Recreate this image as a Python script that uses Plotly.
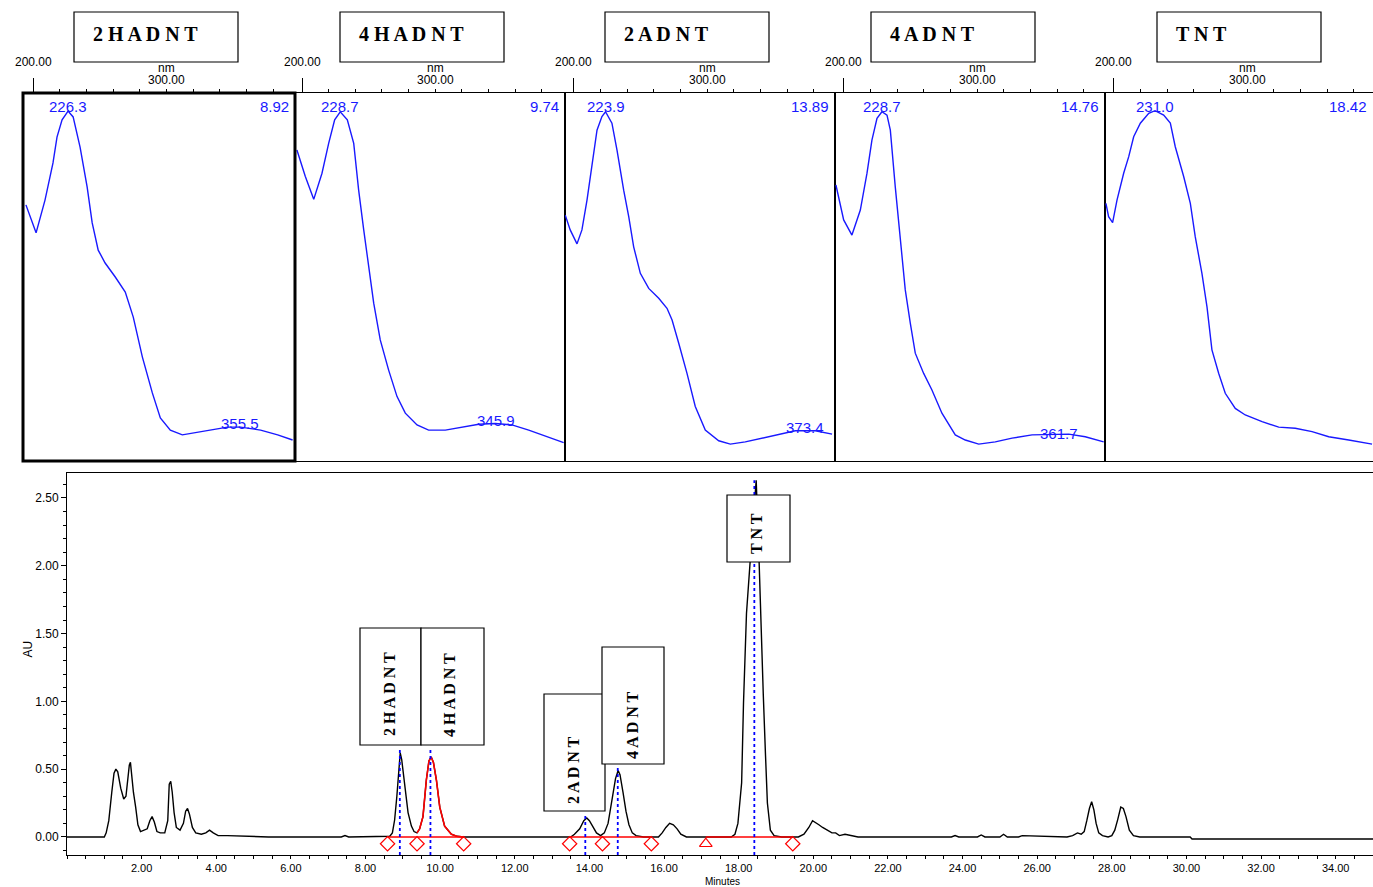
import plotly.graph_objects as go

W, H = 1373, 887
def px(x): return x / W
def py(y): return 1 - y / H

BLUE = "rgb(25,25,255)"
SANS = "Liberation Sans, Arial, sans-serif"
SERIF = "Liberation Serif, Times New Roman, serif"

# ---------------- UV spectra (wavelength nm, relative absorbance) ----------------
spec_names = ["2HADNT", "4HADNT", "2ADNT", "4ADNT", "TNT"]
spec_rt = ["8.92", "9.74", "13.89", "14.76", "18.42"]
spec_max_label = ["226.3", "228.7", "223.9", "228.7", "231.0"]
spec_min_label = ["355.5", "345.9", "373.4", "361.7"]
spec_min_label_a = [0.103, 0.109, 0.090, 0.076]

wl_2hadnt = [194.7, 202.3, 209.0, 215.0, 218.0, 221.8, 226.3, 230.1, 235.3, 240.6, 244.4, 248.9, 254.1, 261.7,
             269.2, 275.2, 282.0, 289.5, 295.5, 303.0, 312.0, 320.3, 333.1, 345.9, 355.6, 370.7, 383.5, 394.7]
ab_2hadnt = [0.696, 0.620, 0.709, 0.810, 0.880, 0.927, 0.951, 0.935, 0.853, 0.745, 0.647, 0.573, 0.538, 0.500,
             0.459, 0.391, 0.283, 0.185, 0.117, 0.084, 0.071, 0.076, 0.084, 0.092, 0.092, 0.084, 0.071, 0.057]

wl_4hadnt = [196.2, 202.5, 208.8, 215.0, 220.0, 224.5, 228.7, 234.0, 238.8, 242.5, 246.3, 250.0, 253.8, 258.7,
             265.0, 271.3, 277.5, 286.3, 295.0, 307.5, 320.0, 332.6, 345.0, 357.5, 370.1, 382.5, 396.3]
ab_4hadnt = [0.845, 0.773, 0.711, 0.782, 0.863, 0.927, 0.949, 0.927, 0.863, 0.736, 0.628, 0.528, 0.429, 0.329,
             0.247, 0.175, 0.130, 0.098, 0.084, 0.084, 0.092, 0.100, 0.102, 0.098, 0.084, 0.068, 0.050]

wl_2adnt = [193.7, 197.4, 202.5, 206.2, 210.0, 213.7, 217.5, 221.2, 223.9, 228.7, 232.5, 237.5, 241.3, 245.0,
            250.0, 256.3, 263.8, 270.0, 273.8, 278.8, 285.0, 291.2, 298.7, 308.8, 317.5, 328.7, 341.3, 353.8,
            366.2, 381.2, 393.8]
ab_2adnt = [0.668, 0.628, 0.590, 0.628, 0.709, 0.809, 0.899, 0.936, 0.949, 0.918, 0.845, 0.736, 0.664, 0.582,
            0.510, 0.469, 0.442, 0.415, 0.383, 0.320, 0.238, 0.148, 0.084, 0.055, 0.046, 0.052, 0.062, 0.073,
            0.082, 0.082, 0.073]

wl_4adnt = [194.2, 200.0, 206.2, 212.5, 217.5, 221.2, 225.0, 228.7, 232.5, 235.0, 238.7, 242.5, 246.2, 250.0,
            253.7, 260.0, 266.2, 273.7, 283.7, 291.2, 301.3, 313.7, 326.3, 341.3, 356.3, 368.8, 381.2, 395.0]
ab_4adnt = [0.750, 0.655, 0.614, 0.682, 0.782, 0.872, 0.931, 0.949, 0.940, 0.899, 0.745, 0.609, 0.465, 0.374,
            0.293, 0.238, 0.193, 0.130, 0.071, 0.057, 0.046, 0.052, 0.062, 0.071, 0.073, 0.073, 0.066, 0.052]

wl_tnt = [194.2, 196.2, 199.2, 202.5, 207.5, 211.3, 215.0, 220.0, 226.3, 231.0, 237.5, 242.5, 246.2, 252.5,
          257.5, 261.2, 266.2, 270.0, 273.7, 278.8, 283.7, 291.2, 298.7, 311.3, 323.8, 336.2, 348.8, 361.3,
          376.3, 393.8]
ab_tnt = [0.700, 0.664, 0.648, 0.709, 0.782, 0.827, 0.881, 0.918, 0.945, 0.952, 0.940, 0.918, 0.854, 0.773,
          0.700, 0.609, 0.510, 0.419, 0.302, 0.238, 0.184, 0.143, 0.125, 0.107, 0.092, 0.089, 0.080, 0.066,
          0.057, 0.046]

spectra_wl = [wl_2hadnt, wl_4hadnt, wl_2adnt, wl_4adnt, wl_tnt]
spectra_ab = [ab_2hadnt, ab_4hadnt, ab_2adnt, ab_4adnt, ab_tnt]

# ---------------- Chromatogram (minutes, AU) ----------------
pre_t = [0.00, 1.00, 1.05, 1.12, 1.20, 1.26, 1.31, 1.36, 1.44, 1.52, 1.58, 1.63, 1.67, 1.70, 1.73, 1.78, 1.84,
         1.90, 1.97, 2.05, 2.15, 2.22, 2.28, 2.34, 2.41, 2.50, 2.62, 2.70, 2.74, 2.78, 2.82, 2.87, 2.93, 3.03,
         3.12, 3.18, 3.23, 3.28, 3.36, 3.45, 3.60, 3.72, 3.82, 3.92, 4.05, 4.30, 4.80, 5.20, 5.40, 7.35, 7.45,
         7.55, 7.65, 8.30, 8.55, 8.65, 8.72, 8.78, 8.84, 8.90, 8.93, 8.97, 9.05, 9.14, 9.23, 9.30]
pre_au = [0.00, 0.00, 0.03, 0.12, 0.33, 0.47, 0.50, 0.48, 0.36, 0.28, 0.30, 0.42, 0.53, 0.55, 0.46, 0.33, 0.22,
          0.09, 0.04, 0.05, 0.06, 0.12, 0.15, 0.11, 0.04, 0.03, 0.03, 0.12, 0.39, 0.41, 0.33, 0.18, 0.07, 0.05,
          0.10, 0.19, 0.21, 0.17, 0.07, 0.03, 0.02, 0.03, 0.05, 0.03, 0.01, 0.01, 0.005, 0.005, 0.00, 0.00, 0.01,
          0.00, 0.00, 0.00, 0.00, 0.005, 0.03, 0.125, 0.30, 0.52, 0.62, 0.57, 0.37, 0.18, 0.08, 0.04]

hadnt4_t = [9.38, 9.45, 9.54, 9.63, 9.70, 9.76, 9.82, 9.90, 9.99, 10.12, 10.30, 10.45, 10.63]
hadnt4_au = [0.03, 0.06, 0.15, 0.42, 0.56, 0.59, 0.55, 0.42, 0.22, 0.08, 0.02, 0.005, 0.00]

post_t = [10.63, 13.50, 13.60, 13.74, 13.85, 13.93, 14.00, 14.08, 14.19, 14.30, 14.40, 14.50, 14.60, 14.70,
          14.77, 14.82, 14.90, 14.98, 15.06, 15.15, 15.25, 15.45, 15.85, 15.95, 16.05, 16.15, 16.25, 16.35,
          16.45, 16.60, 17.80, 17.90, 17.98, 18.08, 18.13, 18.21, 18.30, 18.38, 18.47, 18.54, 18.60, 18.66,
          18.72, 18.77, 18.85, 18.95, 19.15, 19.60, 19.75, 19.88, 19.98, 20.05, 20.15, 20.25, 20.38, 20.50,
          20.60, 20.70, 20.85, 21.00, 21.20, 23.70, 23.80, 23.90, 24.40, 24.50, 24.60, 25.00, 25.10, 25.20,
          25.50, 25.60, 26.80, 26.95, 27.08, 27.18, 27.26, 27.33, 27.40, 27.46, 27.52, 27.58, 27.65, 27.75,
          27.90, 28.00, 28.08, 28.16, 28.24, 28.31, 28.38, 28.47, 28.58, 28.75, 30.10, 30.15, 35.00]
post_au = [0.00, 0.00, 0.02, 0.06, 0.12, 0.14, 0.12, 0.08, 0.03, 0.01, 0.03, 0.10, 0.25, 0.43,
           0.49, 0.46, 0.33, 0.19, 0.09, 0.03, 0.01, 0.00, 0.00, 0.03, 0.07, 0.10, 0.09, 0.06,
           0.02, 0.00, 0.00, 0.02, 0.10, 0.40, 0.99, 1.65, 2.00, 2.30, 2.63, 2.10, 1.48, 1.05,
           0.60, 0.25, 0.05, 0.01, 0.00, 0.00, 0.02, 0.07, 0.12, 0.11, 0.09, 0.07, 0.05, 0.03,
           0.03, 0.01, 0.02, 0.01, 0.00, 0.00, 0.01, 0.00, 0.00, 0.015, 0.00, 0.00, 0.02, 0.00,
           0.00, 0.01, 0.00, 0.01, 0.03, 0.02, 0.04, 0.12, 0.21, 0.26, 0.20, 0.10, 0.03, 0.01,
           0.00, 0.01, 0.05, 0.13, 0.22, 0.21, 0.15, 0.05, 0.01, 0.00, 0.00, -0.015, -0.015]

peak_names = ["2HADNT", "4HADNT", "2ADNT", "4ADNT", "TNT"]
peak_rt = [8.92, 9.74, 13.89, 14.76, 18.42]
peak_marker_top = [0.65, 0.65, 0.17, 0.52, 2.63]

int_start = [8.59, 13.47, 17.12]
int_end = [10.63, 15.66, 19.45]
diamond_t = [8.59, 9.38, 10.63, 13.47, 14.35, 15.66, 19.45]
triangle_t = [17.12]
marker_level = -0.05

y_ticks = [0.0, 0.5, 1.0, 1.5, 2.0, 2.5]
x_ticks = list(range(2, 36, 2))

fig = go.Figure()

# ---------------- spectra panels ----------------
panel_left = [23, 295, 565, 835, 1105]
panel_right = [295, 565, 835, 1105, 1373]
nm_ranges = [[192.5, 396.5], [194.75, 397.3], [193.5, 396.0], [193.5, 396.0], [193.5, 394.5]]
tick200_px = [33, 302, 573.7, 843.7, 1113.7]
title_box_left = [74, 340, 605, 871, 1157]

annotations = []
shapes = []

for i in range(5):
    k = i + 2
    fig.add_trace(go.Scatter(x=spectra_wl[i], y=spectra_ab[i], mode="lines",
                             line=dict(color=BLUE, width=1.4), xaxis=f"x{k}", yaxis=f"y{k}",
                             hoverinfo="skip", showlegend=False))
    fig.layout[f"xaxis{k}"] = dict(
        domain=[px(panel_left[i]), px(panel_right[i])], range=nm_ranges[i], side="top",
        anchor=f"y{k}", showline=True, linecolor="black", linewidth=1, mirror=True,
        ticks="outside", tickvals=[200], ticklen=14, tickcolor="black", tickwidth=1,
        showticklabels=False,
        minor=dict(ticks="outside", dtick=20, tick0=200, ticklen=3, tickcolor="black"),
        showgrid=False, zeroline=False, fixedrange=True)
    fig.layout[f"yaxis{k}"] = dict(
        domain=[py(461), py(93)], range=[0, 1], anchor=f"x{k}", showline=True, linecolor="black",
        linewidth=1, mirror=(i < 4), showticklabels=False, ticks="", showgrid=False, zeroline=False,
        fixedrange=True)

    # axis labels on the top of each spectrum
    t200 = tick200_px[i]
    t300 = t200 + 133.3
    annotations.append(dict(x=px(t200), y=py(62), xref="paper", yref="paper", text="200.00",
                            showarrow=False, font=dict(family=SANS, size=12, color="black"),
                            xanchor="center", yanchor="middle"))
    annotations.append(dict(x=px(t300), y=py(68), xref="paper", yref="paper", text="nm",
                            showarrow=False, font=dict(family=SANS, size=12, color="black"),
                            xanchor="center", yanchor="middle"))
    annotations.append(dict(x=px(t300), y=py(80), xref="paper", yref="paper", text="300.00",
                            showarrow=False, font=dict(family=SANS, size=12, color="black"),
                            xanchor="center", yanchor="middle"))

    # title boxes
    bl = title_box_left[i]
    shapes.append(dict(type="rect", xref="paper", yref="paper", x0=px(bl), x1=px(bl + 164),
                       y0=py(62), y1=py(12), line=dict(color="black", width=1.2), fillcolor="white"))
    annotations.append(dict(x=px(bl + 17), y=py(34), xref="paper", yref="paper",
                            text="<b>" + " ".join(spec_names[i]) + "</b>", showarrow=False,
                            font=dict(family=SERIF, size=20, color="black"),
                            xanchor="left", yanchor="middle"))

    # blue labels
    annotations.append(dict(x=float(spec_max_label[i]), y=0.962, xref=f"x{k}", yref=f"y{k}",
                            text=spec_max_label[i], showarrow=False,
                            font=dict(family=SANS, size=15, color=BLUE), xanchor="center",
                            yanchor="middle"))
    annotations.append(dict(x=px(panel_right[i] - 4), y=py(106), xref="paper", yref="paper",
                            text=spec_rt[i], showarrow=False, font=dict(family=SANS, size=15, color=BLUE),
                            xanchor="right", yanchor="middle"))
    if i < 4:
        annotations.append(dict(x=float(spec_min_label[i]), y=spec_min_label_a[i], xref=f"x{k}",
                                yref=f"y{k}", text=spec_min_label[i], showarrow=False,
                                font=dict(family=SANS, size=15, color=BLUE), xanchor="center",
                                yanchor="middle"))

# thick frame around the first spectrum
shapes.append(dict(type="rect", xref="paper", yref="paper", x0=px(23), x1=px(295), y0=py(461), y1=py(93),
                   line=dict(color="black", width=3)))

# ---------------- chromatogram ----------------
chrom_t = pre_t + hadnt4_t + post_t[1:]
chrom_au = pre_au + hadnt4_au + post_au[1:]

fig.add_trace(go.Scatter(x=chrom_t, y=chrom_au, mode="lines", line=dict(color="black", width=1.4),
                         hoverinfo="skip", showlegend=False))

bx, by = [], []
for s, e in zip(int_start, int_end):
    bx += [s, e, None]
    by += [0, 0, None]
fig.add_trace(go.Scatter(x=bx, y=by, mode="lines", line=dict(color="red", width=1.4),
                         hoverinfo="skip", showlegend=False))
fig.add_trace(go.Scatter(x=hadnt4_t, y=hadnt4_au, mode="lines", line=dict(color="red", width=1.6),
                         hoverinfo="skip", showlegend=False))

y_min = -0.133
vx, vy = [], []
for t, top in zip(peak_rt, peak_marker_top):
    vx += [t, t, None]
    vy += [y_min, top, None]
fig.add_trace(go.Scatter(x=vx, y=vy, mode="lines", line=dict(color="blue", width=1.8, dash="dot"),
                         hoverinfo="skip", showlegend=False))

fig.add_trace(go.Scatter(x=diamond_t, y=[marker_level] * len(diamond_t), mode="markers",
                         marker=dict(symbol="diamond-open", size=11, color="red", line=dict(width=1.2)),
                         hoverinfo="skip", showlegend=False))
fig.add_trace(go.Scatter(x=triangle_t, y=[marker_level] * len(triangle_t), mode="markers",
                         marker=dict(symbol="triangle-up-open", size=11, color="red", line=dict(width=1.2)),
                         hoverinfo="skip", showlegend=False))

fig.layout.xaxis = dict(
    domain=[px(67), 1], range=[0, 35], anchor="y", showline=True, linecolor="black", linewidth=1,
    mirror=True, ticks="outside", tickvals=x_ticks, ticktext=[f"{v:.2f}" for v in x_ticks],
    ticklen=3, tickcolor="black", tickfont=dict(family=SANS, size=11, color="black"),
    minor=dict(ticks="outside", dtick=0.5, tick0=0, ticklen=3, tickcolor="black"),
    showgrid=False, zeroline=False, fixedrange=True)
fig.layout.yaxis = dict(
    domain=[py(855), py(473)], range=[y_min, 2.684], anchor="x", showline=True, linecolor="black",
    linewidth=1, mirror=False, ticks="outside", tickvals=y_ticks,
    ticktext=[f"{v:.2f}" for v in y_ticks], ticklen=5, tickcolor="black",
    tickfont=dict(family=SANS, size=12, color="black"),
    minor=dict(ticks="outside", dtick=0.1, tick0=0, ticklen=3, tickcolor="black"),
    showgrid=False, zeroline=False, fixedrange=True)

annotations.append(dict(x=px(18), y=py(660), xref="paper", yref="paper", text="AU", textangle=-90,
                        showarrow=False, font=dict(family=SANS, size=12, color="black")))
annotations.append(dict(x=px(722), y=py(888), xref="paper", yref="paper", text="Minutes",
                        showarrow=False, font=dict(family=SANS, size=10, color="black"),
                        yanchor="bottom", borderpad=0))

# peak label boxes (pixel boxes: left, top, right, bottom) and rotated text centres
label_boxes = [(360, 628, 421, 745), (421, 628, 484, 745), (544, 694, 605, 811),
               (602, 647, 664, 764), (727, 495, 790, 562)]
label_centres = [(389, 694), (449, 695), (573, 770), (632, 725), (756, 533)]
for name, (l, t, r, b), (cx, cy) in zip(peak_names, label_boxes, label_centres):
    shapes.append(dict(type="rect", xref="paper", yref="paper", x0=px(l), x1=px(r), y0=py(b), y1=py(t),
                       line=dict(color="black", width=1.2), fillcolor="white"))
    annotations.append(dict(x=px(cx), y=py(cy), xref="paper", yref="paper",
                            text="<b>" + " ".join(name) + "</b>", textangle=-90, showarrow=False,
                            font=dict(family=SERIF, size=16, color="black"),
                            xanchor="center", yanchor="middle"))

fig.update_layout(width=W, height=H, margin=dict(l=0, r=0, t=0, b=0), paper_bgcolor="white",
                  plot_bgcolor="rgba(0,0,0,0)", showlegend=False, shapes=shapes, annotations=annotations)

fig.write_html("out.html", config={"displayModeBar": False},
               post_script="document.body.style.margin='0px';document.body.style.overflow='hidden';")
